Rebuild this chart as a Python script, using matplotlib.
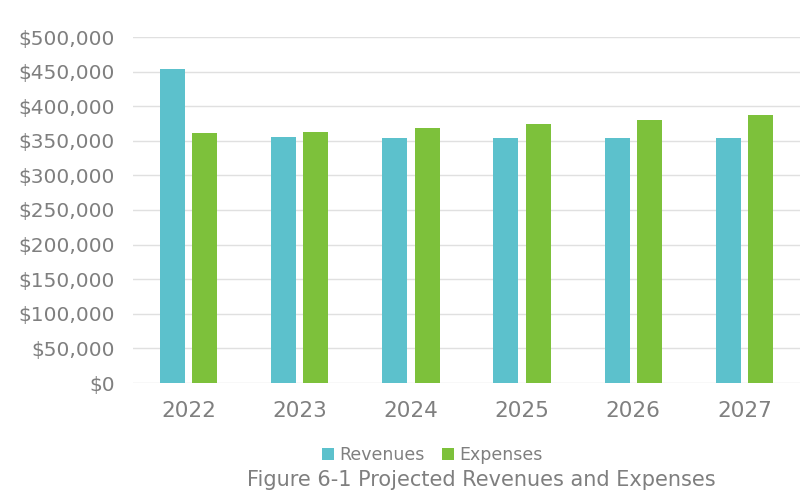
import matplotlib.pyplot as plt
import numpy as np
from matplotlib.ticker import FuncFormatter

years = ['2022', '2023', '2024', '2025', '2026', '2027']
revenues = [454000, 355000, 354000, 354000, 354000, 354000]
expenses = [361000, 362000, 368000, 375000, 380000, 387000]

teal = '#5cc1cc'
green = '#7dc13b'
text_gray = '#7f7f7f'

plt.rcParams['font.family'] = ['DejaVu Sans']

fig = plt.figure(figsize=(8.04, 4.92), dpi=100)
ax = fig.add_axes([133 / 804, 1 - 383 / 492, 667 / 804, 346 / 492])

x = np.arange(len(years))
w = 0.225
ax.bar(x - 0.145, revenues, w, color=teal, label='Revenues', zorder=3)
ax.bar(x + 0.145, expenses, w, color=green, label='Expenses', zorder=3)

ax.set_ylim(0, 500000)
ax.set_xlim(-0.5, len(years) - 0.5)
ax.set_yticks(np.arange(0, 500001, 50000))
ax.yaxis.set_major_formatter(FuncFormatter(lambda v, p: '${:,.0f}'.format(v)))
ax.set_xticks(x)
ax.set_xticklabels(years)

ax.grid(axis='y', color='#e0e0e0', linewidth=1, zorder=0)
for s in ax.spines.values():
    s.set_visible(False)
ax.tick_params(length=0, colors=text_gray)
ax.tick_params(axis='y', labelsize=14.5, pad=13)
ax.tick_params(axis='x', labelsize=15.5, pad=13)

fig.legend(loc='center', bbox_to_anchor=(432 / 804, 1 - 455 / 492), ncol=2,
           frameon=False, fontsize=12.5, handlelength=0.7, handleheight=0.7,
           handletextpad=0.3, columnspacing=1.0, labelcolor=text_gray)
fig.text(481 / 804, 1 - 480 / 492, 'Figure 6-1 Projected Revenues and Expenses',
         ha='center', va='center', fontsize=15, color=text_gray)

fig.savefig('out.png', dpi=100)
